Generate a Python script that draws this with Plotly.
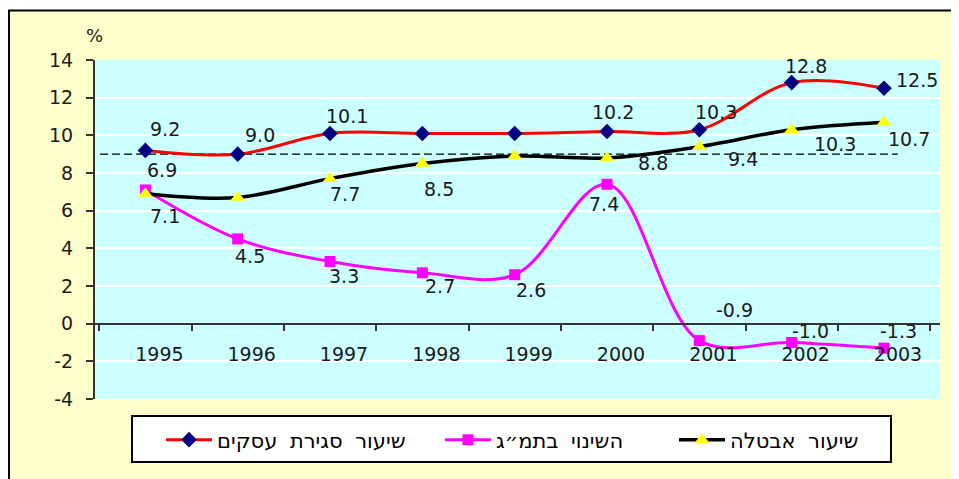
import plotly.graph_objects as go

# ---------------- data ----------------
years = ["1995", "1996", "1997", "1998", "1999", "2000", "2001", "2002", "2003"]
closure_rate = [9.2, 9.0, 10.1, 10.1, 10.1, 10.2, 10.3, 12.8, 12.5]
gdp_change = [7.1, 4.5, 3.3, 2.7, 2.6, 7.4, -0.9, -1.0, -1.3]
unemployment = [6.9, 6.7, 7.7, 8.5, 8.9, 8.8, 9.4, 10.3, 10.7]
reference_level = 9.0
y_ticks = [-4, -2, 0, 2, 4, 6, 8, 10, 12, 14]
y_tick_text = ["-4", "-2", "0", "2", "4", "6", "8", "10", "12", "14"]

series_names = ["שיעור סגירת עסקים", "השינוי בתמ״ג", "שיעור אבטלה"]

# label offsets in px (xshift, yshift); None = no label shown
closure_label_off = [(20, 21), (22, 19), (17, 17), None, None, (6, 20), (17, 18), (14, 17), (33, 8)]
gdp_label_off = [(20, -26), (12, -17), (14, -14), (18, -13), (16, -15), (-3, -20), (35, 31), (19, 12), (14, 17)]
unemp_label_off = [(17, 24), None, (15, -15), (17, -25), None, (46, -5), (44, -12), (43, -14), (25, -17)]

# ---------------- styling ----------------
FONT = "DejaVu Sans"
LEG_FONT = "DejaVu Sans Mono, DejaVu Sans"
PAGE_OFF = 8  # browser body margin
W, H = 959 - PAGE_OFF, 479 - PAGE_OFF
ML, MT = 95 - PAGE_OFF, 60 - PAGE_OFF
MR = W - (940 - PAGE_OFF)
MB = H - (399 - PAGE_OFF)
PW, PH = W - ML - MR, H - MT - MB


def px_x(px):
    """screen px -> paper x"""
    return (px - PAGE_OFF - ML) / PW


def px_y(py):
    """screen px -> paper y"""
    return (H - MB - (py - PAGE_OFF)) / PH


fig = go.Figure()

fig.add_trace(go.Scatter(
    x=years, y=closure_rate, name=series_names[0], mode="lines+markers",
    line=dict(color="#FF0000", width=3, shape="spline", smoothing=1),
    marker=dict(symbol="diamond", size=12, color="#000080"),
    legend="legend",
))
fig.add_trace(go.Scatter(
    x=years, y=gdp_change, name=series_names[1], mode="lines+markers",
    line=dict(color="#FF00FF", width=3, shape="spline", smoothing=1),
    marker=dict(symbol="square", size=11, color="#FF00FF"),
    legend="legend2",
))
fig.add_trace(go.Scatter(
    x=years, y=unemployment, name=series_names[2], mode="lines+markers",
    line=dict(color="#000000", width=3.5, shape="spline", smoothing=1),
    marker=dict(symbol="triangle-up", size=13, color="#FFFF00"),
    legend="legend3",
))

annotations = []
for vals, offs in ((closure_rate, closure_label_off), (gdp_change, gdp_label_off),
                   (unemployment, unemp_label_off)):
    for i, (v, off) in enumerate(zip(vals, offs)):
        if off is None:
            continue
        annotations.append(dict(
            x=i, y=v, xref="x", yref="y", text=f"{v:.1f}", showarrow=False,
            xshift=off[0], yshift=off[1], xanchor="center", yanchor="middle",
            font=dict(family=FONT, size=19, color="#1a1a1a"),
        ))

annotations.append(dict(
    x=px_x(94), y=px_y(36), xref="paper", yref="paper", text="%", showarrow=False,
    xanchor="center", yanchor="middle",
    font=dict(family=FONT, size=18, color="#1a1a1a"),
))

shapes = [
    # outer cream frame
    dict(type="rect", xref="paper", yref="paper", x0=px_x(9), x1=px_x(1000), y0=px_y(540), y1=px_y(10.5),
         fillcolor="#FFFFCC", line=dict(color="#000000", width=2), layer="below"),
    # plot area
    dict(type="rect", xref="paper", yref="paper", x0=0, x1=1, y0=0, y1=1,
         fillcolor="#CCFFFF", line=dict(width=0), layer="below"),
    # legend box
    dict(type="rect", xref="paper", yref="paper", x0=px_x(132), x1=px_x(891), y0=px_y(462), y1=px_y(416),
         fillcolor="#FFFFFF", line=dict(color="#000000", width=2), layer="below"),
    # dashed reference line
    dict(type="line", xref="x domain", yref="y", x0=0.006, x1=0.95, y0=reference_level, y1=reference_level,
         line=dict(color="#000000", width=1.2, dash="8px,4px"), layer="below"),
]

legend_common = dict(
    orientation="h", yanchor="middle", xanchor="left", y=px_y(440),
    bgcolor="rgba(0,0,0,0)", borderwidth=0,
    font=dict(family=LEG_FONT, size=21, color="#000000"), itemwidth=46,
)

fig.update_layout(
    width=W, height=H,
    margin=dict(l=ML, r=MR, t=MT, b=MB),
    paper_bgcolor="#FFFFFF",
    plot_bgcolor="rgba(0,0,0,0)",
    showlegend=True,
    legend=dict(x=px_x(161), **legend_common),
    legend2=dict(x=px_x(440), **legend_common),
    legend3=dict(x=px_x(674), **legend_common),
    xaxis=dict(
        type="category", anchor="free", position=4 / 18,
        tickson="boundaries", ticks="outside", ticklen=6, tickwidth=1.5, tickcolor="#333333",
        showline=True, linecolor="#333333", linewidth=2, showgrid=False,
        ticklabelshift=14, ticklabelstandoff=14,
        tickfont=dict(family=FONT, size=19, color="#1a1a1a"),
    ),
    yaxis=dict(
        range=[-4, 14], tickvals=y_ticks, ticktext=y_tick_text,
        showline=True, linecolor="#333333", linewidth=2,
        ticks="outside", ticklen=7, tickwidth=1.5, tickcolor="#333333",
        showgrid=True, gridcolor="#FFFFFF", gridwidth=1.5, zeroline=False,
        tickfont=dict(family=FONT, size=19, color="#1a1a1a"), ticklabelstandoff=9,
    ),
    annotations=annotations,
    shapes=shapes,
)

fig.write_html("out.html")
